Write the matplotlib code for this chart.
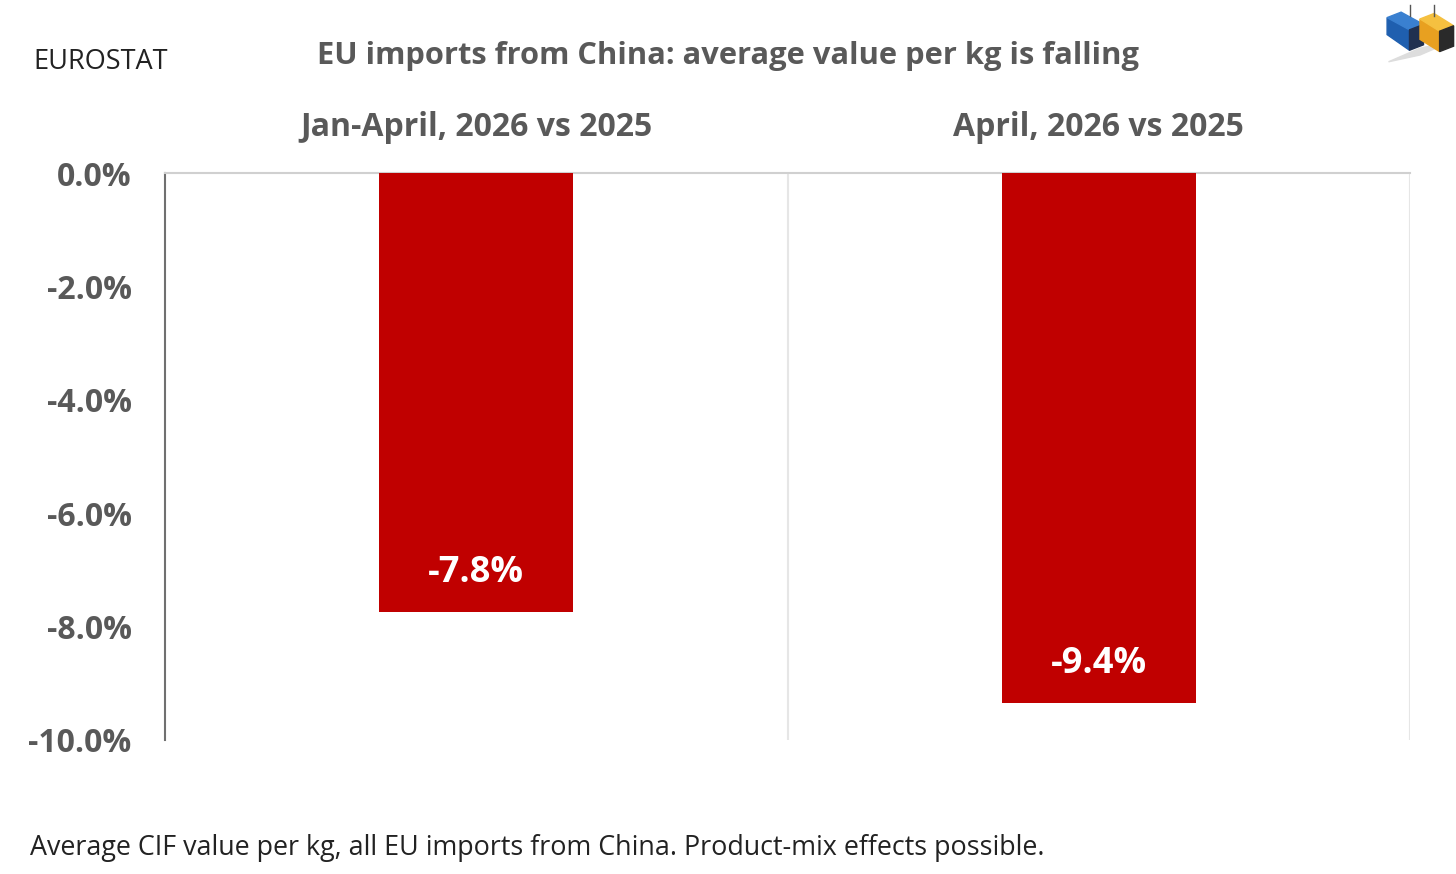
import matplotlib.pyplot as plt
from matplotlib.patches import Polygon

plt.rcParams['font.family'] = ['Open Sans', 'DejaVu Sans']

categories = ["Jan-April, 2026 vs 2025", "April, 2026 vs 2025"]
values = [-7.75, -9.35]
labels = ["-7.8%", "-9.4%"]
yticks = [0, -2, -4, -6, -8, -10]

gray = "#595959"
red = "#C00000"

fig = plt.figure(figsize=(14.56, 8.74), dpi=100)
ax = fig.add_axes([165 / 1456, 1 - 740 / 874, (1410 - 165) / 1456, (740 - 173) / 874])

x = list(range(len(categories)))
ax.bar(x, values, width=0.312, color=red, zorder=3)
for xi, v, lab in zip(x, values, labels):
    ax.text(xi, v + 0.69, lab, ha="center", va="center", color="white",
            fontsize=26, fontweight="bold", zorder=4)

ax.set_xlim(-0.5, 1.5)
ax.set_ylim(-10, 0)
ax.set_yticks(yticks)
ax.set_yticklabels([f"{t:.1f}%" for t in yticks], fontsize=23, fontweight="bold", color=gray)
ax.tick_params(axis="y", length=0, pad=24)

ax.xaxis.tick_top()
ax.set_xticks(x)
ax.set_xticklabels(categories, fontsize=23, fontweight="bold", color=gray)
ax.tick_params(axis="x", length=0, pad=21)

# category separators
for b in [0.5, 1.5]:
    ax.axvline(b, color="#E6E6E6", lw=1.5, zorder=1)

for s in ["right", "bottom"]:
    ax.spines[s].set_visible(False)
ax.spines["top"].set_color("#D0D0D0")
ax.spines["top"].set_linewidth(1.5)
ax.spines["left"].set_color("#707070")
ax.spines["left"].set_linewidth(1.5)

fig.text(728 / 1456, 1 - 56 / 874, "EU imports from China: average value per kg is falling",
         ha="center", va="center", fontsize=22.2, fontweight="bold", color=gray)
fig.text(33 / 1456, 1 - 62 / 874, "EUROSTAT", ha="left", va="center", fontsize=19.5, color="#222222")
fig.text(30 / 1456, 1 - 848 / 874,
         "Average CIF value per kg, all EU imports from China. Product-mix effects possible.",
         ha="left", va="center", fontsize=19.4, color="#222222")

# small container logo
lg = fig.add_axes([1385 / 1456, 1 - 72 / 874, 70 / 1456, 68 / 874])
lg.set_xlim(0, 10)
lg.set_ylim(0, 10)
lg.axis("off")
lg.add_patch(Polygon([[0.5, 1.5], [5, 2.5], [9.5, 4.5], [5, 3.5]], color="#DDDDDD"))
lg.add_patch(Polygon([[0.3, 5.5], [3.5, 3.2], [3.5, 6.2], [0.3, 8.0]], color="#1F5FAF"))
lg.add_patch(Polygon([[0.3, 8.0], [3.5, 6.2], [5.5, 7.0], [2.3, 8.8]], color="#3A80D0"))
lg.add_patch(Polygon([[3.5, 3.2], [5.5, 4.0], [5.5, 7.0], [3.5, 6.2]], color="#203050"))
lg.add_patch(Polygon([[5.0, 4.8], [7.8, 3.0], [7.8, 6.0], [5.0, 7.8]], color="#E8A020"))
lg.add_patch(Polygon([[5.0, 7.8], [7.8, 6.0], [9.8, 6.8], [7.0, 8.6]], color="#F5C040"))
lg.add_patch(Polygon([[7.8, 3.0], [9.8, 3.8], [9.8, 6.8], [7.8, 6.0]], color="#2A2A2A"))
lg.plot([3.6, 3.6], [8.3, 9.9], color="#555555", lw=1)
lg.plot([7.0, 7.0], [8.3, 9.9], color="#555555", lw=1)

fig.savefig("out.png", dpi=100)
